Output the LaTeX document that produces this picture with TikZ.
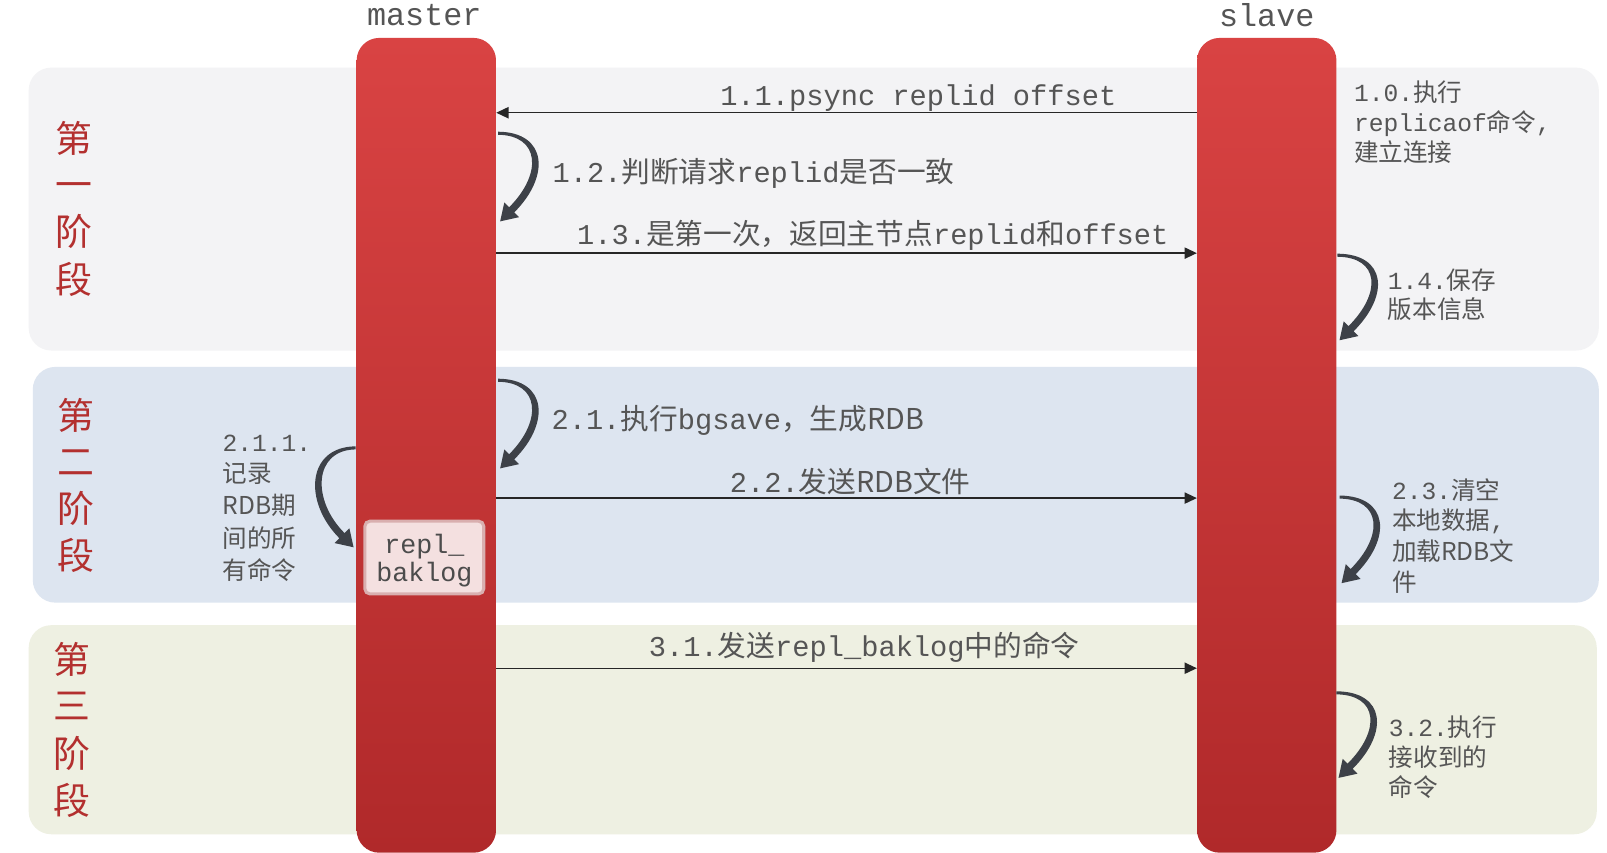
\documentclass[tikz,border=0pt]{standalone}
\usepackage{fontspec}
\setmonofont{Liberation Mono}
\newfontfamily\cjk{Noto Sans CJK SC}
\usetikzlibrary{arrows.meta}
\definecolor{phaseA}{HTML}{F3F3F5}
\definecolor{phaseB}{HTML}{DDE5F0}
\definecolor{phaseC}{HTML}{EEF0E2}
\definecolor{barTop}{HTML}{D94343}
\definecolor{barBot}{HTML}{B0292A}
\definecolor{txt}{HTML}{555555}
\definecolor{phasetxt}{HTML}{B3302F}
\definecolor{loopc}{HTML}{3D4148}
\definecolor{bakfill}{HTML}{F4E0E0}
\definecolor{bakdraw}{HTML}{D9AFAF}
% self loop: #1 start x, #2 start y, #3 tip y, #4 side (1 right, -1 left)
\newcommand\selfloop[4]{%
  \fill[loopc] (#1,{#2-1.5}) .. controls ({#1+#4*48},{#2-1}) and ({#1+#4*51.2},{#3-44.2}) .. ({#1+#4*15.8},{#3-8.8})
    -- ({#1+#4*20.5},{#3-4.1}) -- ({#1+#4*2},#3) -- ({#1+#4*6.1},{#3-18.5}) -- ({#1+#4*10.8},{#3-13.8})
    .. controls ({#1+#4*43.3},{#3-46.3}) and ({#1+#4*41},{#2+2}) .. (#1,{#2+1.5}) -- cycle;}
\tikzset{
  phasebox/.style={rounded corners=22pt},
  bar/.style={draw=none, rounded corners=22pt, top color=barTop, bottom color=barBot,
    minimum width=136pt, minimum height=795pt, inner sep=0pt},
  msg/.style={draw=black!85, line width=1.3pt, -{Triangle[length=12pt,width=11pt]}},
  lbl/.style={text=txt, inner sep=0pt, font=\ttfamily\fontsize{28}{34}\selectfont},
  sml/.style={text=txt, inner sep=0pt, anchor=base west, font=\ttfamily\fontsize{24}{29}\selectfont},
  ttl/.style={text=txt, inner sep=0pt, anchor=base, font=\ttfamily\fontsize{31}{37}\selectfont},
  phase/.style={text=phasetxt, inner sep=0pt, anchor=base, font=\cjk\fontsize{36}{40}\selectfont},
  bakbox/.style={fill=bakfill, draw=bakdraw, line width=3pt, rounded corners=5pt,
    minimum width=116pt, minimum height=71pt, inner sep=0pt},
  baktxt/.style={text=black!70, inner sep=0pt, anchor=base, font=\ttfamily\fontsize{26}{30}\selectfont}
}
\begin{document}
\begin{tikzpicture}[x=1pt,y=-1pt]
\useasboundingbox (0,0) rectangle (1568,832);
\fill[white] (0,0) rectangle (1568,832);
% phases
\fill[phaseA, phasebox] (28,66) rectangle (1560,342);
\fill[phaseB, phasebox] (32,358) rectangle (1560,588);
\fill[phaseC, phasebox] (28,610) rectangle (1558,814);
% bars
\node[bar] (master) at (416,434.5) {};
\node[bar] (slave) at (1236,434.5) {};
\node[ttl] (mlabel) at (414,25) {master};
\node[ttl] (slabel) at (1236,26) {slave};
% repl_baklog
\node[bakbox] (bak) at (414,544) {};
\node[baktxt] (bak1) at (414,540) {repl\_};
\node[baktxt] (bak2) at (414,567.5) {baklog};
% messages
\coordinate (y11) at (0,110);
\coordinate (y13) at (0,247);
\coordinate (y22) at (0,486);
\coordinate (y31) at (0,652);
\draw[msg] (slave.west |- y11) -- (master.east |- y11);
\draw[msg] (master.east |- y13) -- (slave.west |- y13);
\draw[msg] (master.east |- y22) -- (slave.west |- y22);
\draw[msg] (master.east |- y31) -- (slave.west |- y31);
% self loops
\selfloop{486}{130}{216}{1}
\selfloop{486}{371}{457}{1}
\selfloop{347}{437}{534}{-1}
\selfloop{1305}{249}{332}{1}
\selfloop{1307}{485}{569}{1}
\selfloop{1304}{676}{759}{1}
% phase titles
\foreach \ch/\yy [count=\i] in {第/149,一/194,阶/240,段/286} \node[phase] (pa\i) at (72,\yy) {\ch};
\foreach \ch/\yy [count=\i] in {第/419,二/464,阶/510,段/556} \node[phase] (pb\i) at (74,\yy) {\ch};
\foreach \ch/\yy [count=\i] in {第/657,三/702,阶/749,段/795} \node[phase] (pc\i) at (70,\yy) {\ch};
% main labels
\node[lbl, anchor=base] (t11) at (896,102.5) {1.1.psync replid offset};
\node[lbl, anchor=base west] (t12) at (539,178) {1.2.{\cjk 判断请求}replid{\cjk 是否一致}};
\node[lbl, anchor=base west] (t13) at (563,239) {1.3.{\cjk 是第一次，返回主节点}replid{\cjk 和}offset};
\node[lbl, anchor=base west] (t21) at (538,419) {2.1.{\cjk 执行}bgsave{\cjk ，生成RDB}};
\node[lbl, anchor=base west] (t22) at (712,481) {2.2.{\cjk 发送RDB文件}};
\node[lbl, anchor=base west] (t31) at (633,641) {3.1.{\cjk 发送}repl\_baklog{\cjk 中的命令}};
% side labels
\node[sml] (t10a) at (1321,99) {1.0.{\cjk 执行}};
\node[sml] (t10b) at (1321,128) {replicaof{\cjk 命令},};
\node[sml] (t10c) at (1321,158) {{\cjk 建立连接}};
\node[sml] (t14a) at (1354,282) {1.4.{\cjk 保存}};
\node[sml] (t14b) at (1354,311) {{\cjk 版本信息}};
\node[sml] (t23a) at (1358,487) {2.3.{\cjk 清空}};
\node[sml] (t23b) at (1358,517) {{\cjk 本地数据},};
\node[sml] (t23c) at (1358,547) {{\cjk 加载RDB文}};
\node[sml] (t23d) at (1358,577) {{\cjk 件}};
\node[sml] (t32a) at (1355,719) {3.2.{\cjk 执行}};
\node[sml] (t32b) at (1355,748) {{\cjk 接收到的}};
\node[sml] (t32c) at (1355,777) {{\cjk 命令}};
\node[sml] (t211a) at (217,441) {2.1.1.};
\node[sml] (t211b) at (217,471) {{\cjk 记录}};
\node[sml] (t211c) at (217,502) {{\cjk RDB期}};
\node[sml] (t211d) at (217,534) {{\cjk 间的所}};
\node[sml] (t211e) at (217,565) {{\cjk 有命令}};
\end{tikzpicture}
\end{document}
